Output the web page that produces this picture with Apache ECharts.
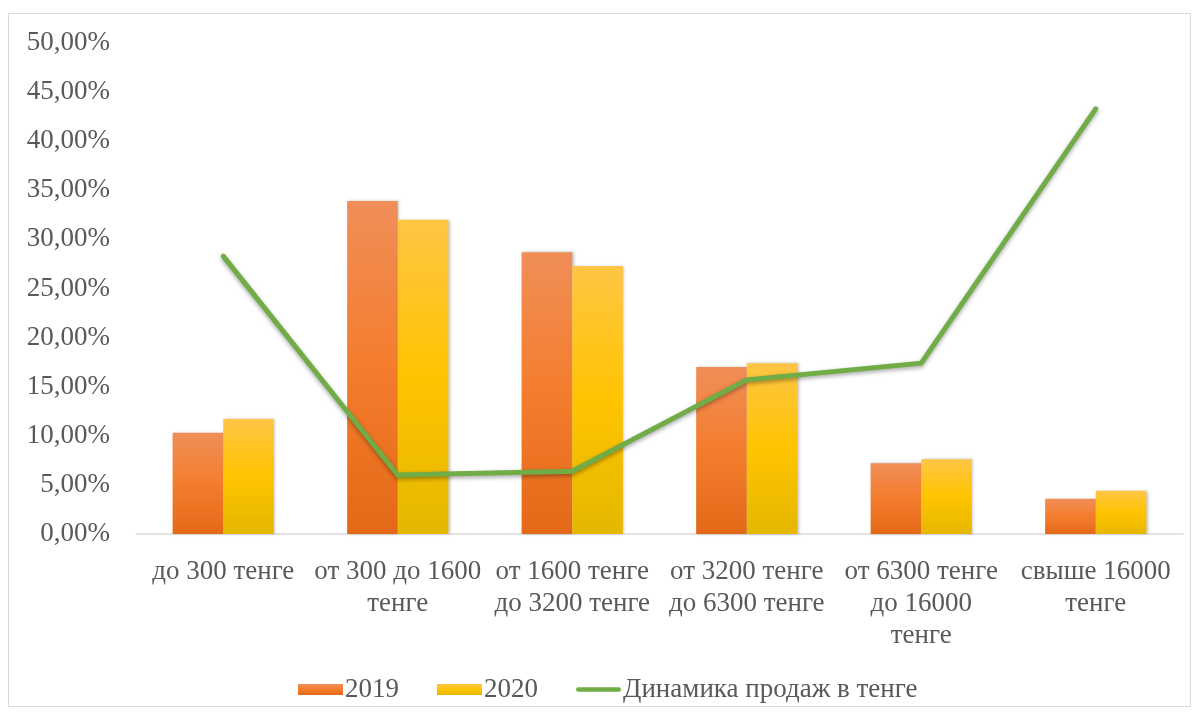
<!DOCTYPE html>
<html>
<head>
<meta charset="utf-8">
<script src="https://cdn.jsdelivr.net/npm/echarts@6/dist/echarts.min.js"></script>
<style>
  html, body { margin: 0; padding: 0; background: #fff; }
  #chart { width: 1198px; height: 713px; }
</style>
</head>
<body>
<div id="chart"></div>
<script>
const categories = [
  "до 300 тенге",
  "от 300 до 1600\nтенге",
  "от 1600 тенге\nдо 3200 тенге",
  "от 3200 тенге\nдо 6300 тенге",
  "от 6300 тенге\nдо 16000\nтенге",
  "свыше 16000\nтенге"
];
const values2019 = [10.3, 33.9, 28.7, 17.0, 7.2, 3.6];
const values2020 = [11.7, 32.0, 27.3, 17.4, 7.6, 4.4];
const salesDynamics = [28.3, 6.0, 6.4, 15.7, 17.4, 43.3];

const font = "Liberation Serif";
const textColor = "#595959";

let myChart = echarts.init(document.getElementById("chart"));
myChart.setOption({
  backgroundColor: "#ffffff",
  animation: false,
  graphic: [{
    type: "rect",
    shape: { x: 8.5, y: 13.5, width: 1182, height: 693 },
    style: { fill: "none", stroke: "#d9d9d9", lineWidth: 1 },
    silent: true,
  }],
  grid: {
    left: 136,
    right: 15,
    top: 43,
    bottom: 179,
  },
  legend: {
    left: 293,
    top: 671,
    itemWidth: 45,
    itemHeight: 11,
    itemGap: 38,
    textStyle: {
      fontFamily: font,
      fontSize: 27,
      color: textColor,
      padding: [0, 0, 0, -3],
    },
    data: [
      { name: "2019", icon: "rect" },
      { name: "2020", icon: "rect" },
      { name: "Динамика продаж в тенге", icon: "path://M2,0 H48 A2,2 0 0 1 48,5 H2 A2,2 0 0 1 2,0 Z" },
    ],
  },
  xAxis: {
    type: "category",
    data: categories,
    axisLine: { lineStyle: { color: "#d9d9d9", width: 1.5 } },
    axisTick: { show: false },
    axisLabel: {
      interval: 0,
      margin: 22,
      fontFamily: font,
      fontSize: 27,
      lineHeight: 32,
      color: textColor,
    },
  },
  yAxis: {
    type: "value",
    min: 0,
    max: 50,
    interval: 5,
    axisLine: { show: false },
    axisTick: { show: false },
    splitLine: { show: false },
    axisLabel: {
      margin: 26,
      fontFamily: font,
      fontSize: 27,
      color: textColor,
      formatter: function (v) {
        return v.toFixed(2).replace(".", ",") + "%";
      },
    },
  },
  series: [{
    name: "2019",
    type: "bar",
    data: values2019,
    barGap: "0%",
    barCategoryGap: "42%",
    itemStyle: {
      color: new echarts.graphic.LinearGradient(0, 0, 0, 1, [
        { offset: 0, color: "#F08E58" },
        { offset: 0.5, color: "#F47D2D" },
        { offset: 1, color: "#E36918" },
      ]),
      shadowColor: "rgba(0,0,0,0.25)",
      shadowBlur: 3,
      shadowOffsetX: 1.5,
    },
  }, {
    name: "2020",
    type: "bar",
    data: values2020,
    itemStyle: {
      color: new echarts.graphic.LinearGradient(0, 0, 0, 1, [
        { offset: 0, color: "#FFC545" },
        { offset: 0.5, color: "#FFC400" },
        { offset: 1, color: "#E5B700" },
      ]),
      shadowColor: "rgba(0,0,0,0.25)",
      shadowBlur: 3,
      shadowOffsetX: 1.5,
    },
  }, {
    name: "Динамика продаж в тенге",
    type: "line",
    data: salesDynamics,
    symbol: "none",
    lineStyle: {
      color: "#70AD47",
      width: 5,
      cap: "round",
      join: "miter",
      shadowColor: "rgba(0,0,0,0.35)",
      shadowBlur: 4,
      shadowOffsetY: 2,
    },
    itemStyle: { color: "#70AD47" },
  }],
});
window.onresize = function () {
  myChart.resize();
};
</script>
</body>
</html>
